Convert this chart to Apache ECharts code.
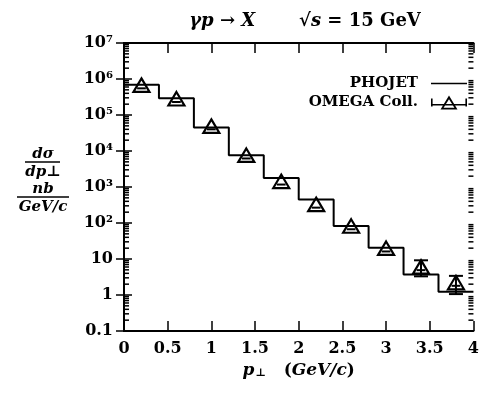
<!DOCTYPE html>
<html>
<head>
<meta charset="utf-8">
<script src="https://cdn.jsdelivr.net/npm/echarts@6/dist/echarts.min.js"></script>
<style>
  html, body { margin: 0; padding: 0; background: #fff; }
  #chart { width: 482px; height: 394px; }
</style>
</head>
<body>
<div id="chart"></div>
<script>
// PHOJET prediction: histogram bins (left edges, width 0.4 GeV/c) and heights in nb/(GeV/c)
const binEdges = [0, 0.4, 0.8, 1.2, 1.6, 2.0, 2.4, 2.8, 3.2, 3.6, 4.0];
const phojetValues = [6.9e5, 2.9e5, 4.5e4, 7.6e3, 1.78e3, 450, 82, 20.6, 3.7, 1.24];

// OMEGA Collaboration measurements
const omegaPt = [0.2, 0.6, 1.0, 1.4, 1.8, 2.2, 2.6, 3.0, 3.4, 3.8];
const omegaValues = [5.5e5, 2.3e5, 4.0e4, 6.2e3, 1.17e3, 267, 67, 16.2, 4.9, 1.8];
const omegaErrLow = [5.5e5, 2.3e5, 4.0e4, 6.2e3, 1.17e3, 267, 67, 16.2, 3.3, 1.06];
const omegaErrHigh = [5.5e5, 2.3e5, 4.0e4, 6.2e3, 1.17e3, 267, 67, 16.2, 9.2, 3.4];
const omegaPtHalf = [0.05, 0.05, 0.05, 0.05, 0.05, 0.05, 0.05, 0.05, 0.05, 0.05];

// Axis tick labels
const xTickLabels = ['0', '0.5', '1', '1.5', '2', '2.5', '3', '3.5', '4'];
const yTickLabels = ['0.1', '1', '10', '10²', '10³', '10⁴', '10⁵', '10⁶', '10⁷'];
const yMinExp = -1;
const xMin = 0, xMax = 4;

const FONT = 'DejaVu Serif';

// histogram as step line: one point per left edge plus the closing edge
const histData = phojetValues.map((v, i) => [binEdges[i], v]);
histData.push([binEdges[binEdges.length - 1], phojetValues[phojetValues.length - 1]]);

const omegaData = omegaPt.map((x, i) => [x, omegaValues[i], omegaErrLow[i], omegaErrHigh[i], omegaPtHalf[i]]);

// logarithmic minor tick positions (2..9 per decade)
const minorTicks = [];
for (let e = yMinExp; e < yMinExp + yTickLabels.length - 1; e++) {
  for (let m = 2; m <= 9; m++) minorTicks.push([xMin, m * Math.pow(10, e)]);
}

// legend icons
const phojetIcon = 'path://M0,6.2L36,6.2L36,7.8L0,7.8Z';
const omegaIcon = 'path://M0,3L1.6,3L1.6,8.4L34.4,8.4L34.4,3L36,3L36,11L34.4,11L34.4,10L1.6,10L1.6,11L0,11Z' +
  'M18,0L26.5,14L9.5,14ZM18,3.8L12.6,12.2L23.4,12.2Z';

const chart = echarts.init(document.getElementById('chart'), null, { renderer: 'canvas' });

const axisLineStyle = { color: '#000', width: 2 };
const fracFont = 'italic bold 15px "DejaVu Serif"';

chart.setOption({
  animation: false,
  backgroundColor: '#fff',
  textStyle: { fontFamily: FONT, color: '#000' },
  title: {
    text: '{i|γp} → {i|X}       √{i|s} = 15 GeV',
    left: 300,
    top: 7,
    textAlign: 'center',
    textStyle: {
      fontFamily: FONT, fontSize: 18, fontWeight: 'bold', color: '#000',
      rich: {
        i: { fontFamily: FONT, fontSize: 18, fontWeight: 'bold', fontStyle: 'italic', color: '#000' }
      }
    }
  },
  legend: [
    {
      data: [{ name: 'PHOJET', icon: phojetIcon }],
      right: 10, top: 71, orient: 'vertical', align: 'right',
      itemWidth: 36, itemHeight: 14, selectedMode: false,
      itemStyle: { color: '#000' },
      textStyle: { fontFamily: FONT, fontSize: 15, fontWeight: 'bold', color: '#000', padding: [0, 8, 0, 0] }
    },
    {
      data: [{ name: 'OMEGA Coll.', icon: omegaIcon }],
      right: 10, top: 90, orient: 'vertical', align: 'right',
      itemWidth: 36, itemHeight: 14, selectedMode: false,
      itemStyle: { color: '#000' },
      textStyle: { fontFamily: FONT, fontSize: 15, fontWeight: 'bold', color: '#000', padding: [0, 8, 0, 0] }
    }
  ],
  grid: { left: 124, right: 2, top: 43, bottom: 63, containLabel: false },
  xAxis: [
    {
      type: 'value', position: 'bottom', min: xMin, max: xMax, interval: 0.5,
      axisLine: { lineStyle: axisLineStyle },
      axisTick: { inside: true, length: 10, lineStyle: { color: '#000', width: 1.5 } },
      splitLine: { show: false },
      axisLabel: {
        margin: 10, fontFamily: FONT, fontSize: 16, fontWeight: 'bold', color: '#000',
        formatter: v => xTickLabels[Math.round(v / 0.5)]
      },
      name: '{i|p}{s|⊥}   ({i|GeV/c})',
      nameLocation: 'middle', nameGap: 28,
      nameTextStyle: {
        fontFamily: FONT, fontSize: 17, fontWeight: 'bold', color: '#000',
        rich: {
          i: { fontFamily: FONT, fontSize: 17, fontWeight: 'bold', fontStyle: 'italic', color: '#000' },
          s: { fontFamily: FONT, fontSize: 11, fontWeight: 'bold', color: '#000', padding: [6, 0, 0, 1] }
        }
      }
    },
    {
      type: 'value', position: 'top', min: xMin, max: xMax, interval: 0.5,
      axisLine: { lineStyle: axisLineStyle },
      axisTick: { inside: true, length: 10, lineStyle: { color: '#000', width: 1.5 } },
      axisLabel: { show: false },
      splitLine: { show: false }
    }
  ],
  yAxis: [
    {
      type: 'log', logBase: 10, min: 0.1, max: 1e7, position: 'left',
      axisLine: { show: true, lineStyle: axisLineStyle },
      axisTick: { inside: true, length: 8, lineStyle: { color: '#000', width: 1.5 } },
      splitLine: { show: false },
      axisLabel: {
        margin: 11, fontFamily: FONT, fontSize: 16, fontWeight: 'bold', color: '#000',
        formatter: v => yTickLabels[Math.round(Math.log10(v)) - yMinExp]
      }
    },
    {
      type: 'log', logBase: 10, min: 0.1, max: 1e7, position: 'right',
      axisLine: { show: true, lineStyle: axisLineStyle },
      axisTick: { inside: true, length: 8, lineStyle: { color: '#000', width: 1.5 } },
      axisLabel: { show: false },
      splitLine: { show: false }
    }
  ],
  graphic: [
    { type: 'text', x: 43, y: 154, style: { text: 'dσ', font: fracFont, fill: '#000', align: 'center', verticalAlign: 'middle' } },
    { type: 'line', shape: { x1: 25, y1: 162, x2: 60, y2: 162 }, style: { stroke: '#000', lineWidth: 1.5 } },
    { type: 'text', x: 43, y: 172, style: { text: 'dp⊥', font: fracFont, fill: '#000', align: 'center', verticalAlign: 'middle' } },
    { type: 'text', x: 43, y: 189, style: { text: 'nb', font: fracFont, fill: '#000', align: 'center', verticalAlign: 'middle' } },
    { type: 'line', shape: { x1: 17, y1: 197, x2: 69, y2: 197 }, style: { stroke: '#000', lineWidth: 1.5 } },
    { type: 'text', x: 43, y: 207, style: { text: 'GeV/c', font: fracFont, fill: '#000', align: 'center', verticalAlign: 'middle' } }
  ],
  series: [
    {
      name: 'log minor ticks',
      type: 'custom',
      xAxisIndex: 0, yAxisIndex: 0,
      silent: true,
      clip: false,
      data: minorTicks,
      renderItem: (params, api) => {
        const v = api.value(1);
        const pl = api.coord([xMin, v]);
        const pr = api.coord([xMax, v]);
        const len = 5;
        return {
          type: 'group',
          children: [
            { type: 'line', shape: { x1: pl[0], y1: pl[1], x2: pl[0] + len, y2: pl[1] }, style: { stroke: '#000', lineWidth: 1.5 } },
            { type: 'line', shape: { x1: pr[0] - len, y1: pr[1], x2: pr[0], y2: pr[1] }, style: { stroke: '#000', lineWidth: 1.5 } }
          ]
        };
      },
      z: 6
    },
    {
      name: 'PHOJET',
      type: 'line',
      xAxisIndex: 0, yAxisIndex: 0,
      step: 'end',
      symbol: 'none',
      data: histData,
      lineStyle: { color: '#000', width: 2 },
      itemStyle: { color: '#000' },
      z: 4
    },
    {
      name: 'OMEGA Coll.',
      type: 'custom',
      xAxisIndex: 0, yAxisIndex: 0,
      data: omegaData,
      itemStyle: { color: '#000' },
      renderItem: (params, api) => {
        const x = api.value(0), y = api.value(1);
        const lo = api.value(2), hi = api.value(3), dx = api.value(4);
        const p = api.coord([x, y]);
        const pLo = api.coord([x, lo]);
        const pHi = api.coord([x, hi]);
        const pL = api.coord([x - dx, y]);
        const pR = api.coord([x + dx, y]);
        const st = { stroke: '#000', lineWidth: 2, fill: null };
        const cap = 7;
        const children = [
          { type: 'polygon', shape: { points: [[p[0], p[1] - 10], [p[0] + 8, p[1] + 3.5], [p[0] - 8, p[1] + 3.5]] }, style: { stroke: '#000', lineWidth: 2.2, fill: 'rgba(0,0,0,0)' } },
          { type: 'line', shape: { x1: pL[0], y1: p[1], x2: pR[0], y2: p[1] }, style: st }
        ];
        if (Math.abs(pLo[1] - pHi[1]) > 1) {
          children.push(
            { type: 'line', shape: { x1: p[0], y1: pLo[1], x2: p[0], y2: pHi[1] }, style: st },
            { type: 'line', shape: { x1: p[0] - cap, y1: pLo[1], x2: p[0] + cap, y2: pLo[1] }, style: st },
            { type: 'line', shape: { x1: p[0] - cap, y1: pHi[1], x2: p[0] + cap, y2: pHi[1] }, style: st }
          );
        }
        return { type: 'group', children };
      },
      z: 5
    }
  ]
});
</script>
</body>
</html>
